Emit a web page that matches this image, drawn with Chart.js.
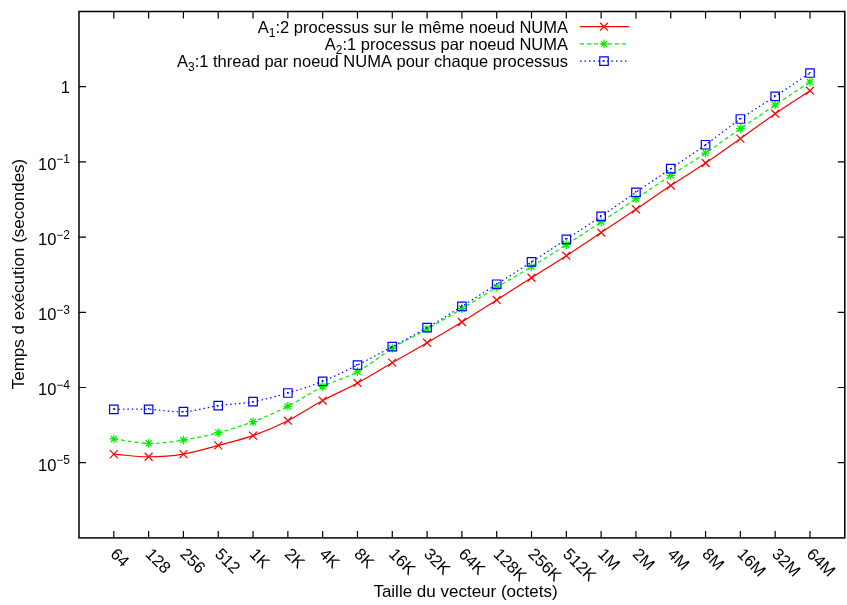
<!DOCTYPE html>
<html>
<head>
<meta charset="utf-8">
<script src="https://cdn.jsdelivr.net/npm/chart.js@4.4.1/dist/chart.umd.min.js"></script>
<style>
  html, body { margin: 0; padding: 0; background: #fff; overflow: hidden; }
  #wrap { width: 852px; height: 605px; }
</style>
</head>
<body>
<div id="wrap"><canvas id="c" width="852" height="605"></canvas></div>
<script>
// Vector sizes (bytes), one category per power of two
const sizes = ['64', '128', '256', '512', '1K', '2K', '4K', '8K', '16K', '32K', '64K',
               '128K', '256K', '512K', '1M', '2M', '4M', '8M', '16M', '32M', '64M'];

// Execution times in seconds
const sameNode = [1.30e-5, 1.20e-5, 1.30e-5, 1.70e-5, 2.29e-5, 3.62e-5, 6.7e-5, 1.15e-4,
                  2.14e-4, 3.94e-4, 7.43e-4, 1.46e-3, 2.88e-3, 5.66e-3, 1.15e-2, 2.34e-2,
                  4.85e-2, 0.0967, 0.204, 0.438, 0.885];
const perNode = [2.07e-5, 1.81e-5, 2.00e-5, 2.51e-5, 3.51e-5, 5.62e-5, 1.03e-4, 1.62e-4,
                 3.32e-4, 6.0e-4, 1.12e-3, 2.15e-3, 4.04e-3, 7.93e-3, 1.59e-2, 3.24e-2,
                 6.6e-2, 0.131, 0.277, 0.571, 1.155];
const threadPerNode = [5.13e-5, 5.13e-5, 4.77e-5, 5.73e-5, 6.48e-5, 8.45e-5, 1.21e-4, 1.99e-4,
                       3.49e-4, 6.24e-4, 1.20e-3, 2.36e-3, 4.67e-3, 9.35e-3, 1.89e-2, 3.94e-2,
                       8.12e-2, 0.169, 0.372, 0.745, 1.52];

// Decades that get a label on the y axis
const yTickExponents = [0, -1, -2, -3, -4, -5];

// Series names: letter, subscript, remainder
const seriesNames = [
  ['A', '1', ':2 processus sur le même noeud NUMA'],
  ['A', '2', ':1 processus par noeud NUMA'],
  ['A', '3', ':1 thread par noeud NUMA pour chaque processus']
];

const xTitle = 'Taille du vecteur (octets)';
const yTitle = 'Temps d exécution (secondes)';

const FONT = '"Liberation Sans", Arial, Helvetica, sans-serif';
const FS = 16.5;
const TITLE_FS = 17;
const SUB = 12;
const TICK = 7;

const toPoints = arr => arr.map((v, i) => ({ x: i, y: v }));

const styles = [
  { color: '#ff0000', dash: [], point: 'crossRot', radius: 5.6 },
  { color: '#00ee00', dash: [4, 3], point: 'star', radius: 4.3 },
  { color: '#0000ff', dash: [1.5, 3], point: 'rect', radius: 6 }
];

const seriesData = [sameNode, perNode, threadPerNode];

function drawMarker(ctx, style, x, y) {
  Chart.helpers.drawPoint(ctx, {
    pointStyle: style.point, radius: style.radius, rotation: 0, borderWidth: 1.2
  }, x, y);
}

const frame = {
  id: 'frame',
  afterDatasetsDraw(chart) {
    // small centre dot inside the square markers
    const ctx = chart.ctx;
    const meta = chart.getDatasetMeta(2);
    ctx.save();
    ctx.fillStyle = '#0000ff';
    meta.data.forEach(p => ctx.fillRect(Math.round(p.x) - 1, Math.round(p.y) - 1, 1.5, 1.5));
    ctx.restore();
  },
  afterDraw(chart) {
    const { ctx, chartArea: a, scales: { x, y } } = chart;
    ctx.save();
    ctx.strokeStyle = '#000';
    ctx.fillStyle = '#000';
    ctx.lineWidth = 1.5;

    // border
    ctx.strokeRect(a.left, a.top, a.right - a.left, a.bottom - a.top);

    // x ticks (bottom and top) and rotated labels
    ctx.lineWidth = 1.2;
    ctx.font = FS + 'px ' + FONT;
    sizes.forEach((lab, i) => {
      const px = x.getPixelForValue(i);
      ctx.beginPath();
      ctx.moveTo(px, a.bottom); ctx.lineTo(px, a.bottom - TICK);
      ctx.moveTo(px, a.top); ctx.lineTo(px, a.top + TICK);
      ctx.stroke();
      ctx.save();
      ctx.translate(px - 1, a.bottom + 14);
      ctx.rotate(Math.PI / 4);
      ctx.textAlign = 'left';
      ctx.textBaseline = 'middle';
      ctx.fillText(lab, 0, 0);
      ctx.restore();
    });

    // y ticks (left and right) and labels
    yTickExponents.forEach(e => {
      const py = y.getPixelForValue(Math.pow(10, e));
      ctx.beginPath();
      ctx.moveTo(a.left, py); ctx.lineTo(a.left + TICK, py);
      ctx.moveTo(a.right, py); ctx.lineTo(a.right - TICK, py);
      ctx.stroke();
      const right = a.left - 9;
      ctx.textBaseline = 'alphabetic';
      if (e === 0) {
        ctx.font = FS + 'px ' + FONT;
        ctx.textAlign = 'right';
        ctx.fillText('1', right, py + 5.8);
      } else {
        const sup = '\u2212' + (-e);
        ctx.font = SUB + 'px ' + FONT;
        const ws = ctx.measureText(sup).width;
        ctx.textAlign = 'right';
        ctx.fillText(sup, right, py + 1.5);
        ctx.font = FS + 'px ' + FONT;
        ctx.fillText('10', right - ws, py + 7.8);
      }
    });

    // axis titles
    ctx.font = TITLE_FS + 'px ' + FONT;
    ctx.textAlign = 'center';
    ctx.textBaseline = 'middle';
    ctx.fillText(xTitle, 465.5, 592);
    ctx.save();
    ctx.translate(19, 274);
    ctx.rotate(-Math.PI / 2);
    ctx.fillText(yTitle, 0, 0);
    ctx.restore();

    // key
    seriesNames.forEach((parts, i) => {
      const cy = 26.7 + i * 17.2;
      const base = cy + 5.8;
      const textRight = 568;
      ctx.fillStyle = '#000';
      ctx.textBaseline = 'alphabetic';
      ctx.textAlign = 'left';
      ctx.font = FS + 'px ' + FONT;
      const wA = ctx.measureText(parts[0]).width;
      const wRest = ctx.measureText(parts[2]).width;
      ctx.font = SUB + 'px ' + FONT;
      const wSub = ctx.measureText(parts[1]).width;
      let cx = textRight - wRest - wSub - wA;
      ctx.font = FS + 'px ' + FONT;
      ctx.fillText(parts[0], cx, base);
      cx += wA;
      ctx.font = SUB + 'px ' + FONT;
      ctx.fillText(parts[1], cx, base + 4);
      cx += wSub;
      ctx.font = FS + 'px ' + FONT;
      ctx.fillText(parts[2], cx, base);

      const st = styles[i];
      ctx.save();
      ctx.strokeStyle = st.color;
      ctx.lineWidth = 1.2;
      ctx.setLineDash(st.dash);
      ctx.beginPath();
      ctx.moveTo(580, cy); ctx.lineTo(629, cy);
      ctx.stroke();
      ctx.setLineDash([]);
      ctx.fillStyle = 'rgba(0,0,0,0)';
      drawMarker(ctx, st, 604, cy);
      if (st.point === 'rect') {
        ctx.fillStyle = st.color;
        ctx.fillRect(603, cy - 1, 1.5, 1.5);
      }
      ctx.restore();
    });

    ctx.restore();
  }
};

new Chart(document.getElementById('c'), {
  type: 'line',
  data: {
    datasets: seriesData.map((arr, i) => ({
      label: seriesNames[i].join(''),
      data: toPoints(arr),
      borderColor: styles[i].color,
      backgroundColor: 'rgba(0,0,0,0)',
      pointBorderColor: styles[i].color,
      pointBackgroundColor: 'rgba(0,0,0,0)',
      borderWidth: 1.2,
      borderDash: styles[i].dash,
      pointStyle: styles[i].point,
      pointRadius: styles[i].radius,
      pointBorderWidth: 1.2,
      tension: 0.35,
      fill: false,
      order: 2 - i
    }))
  },
  options: {
    responsive: false,
    devicePixelRatio: 1,
    animation: false,
    layout: { padding: { left: 79, top: 11.5, right: 0.4, bottom: 67.1 } },
    plugins: { legend: { display: false }, tooltip: { enabled: false } },
    scales: {
      x: { type: 'linear', min: -1, max: 21, display: false },
      y: { type: 'logarithmic', min: 1e-6, max: 10, display: false }
    }
  },
  plugins: [frame]
});
</script>
</body>
</html>
